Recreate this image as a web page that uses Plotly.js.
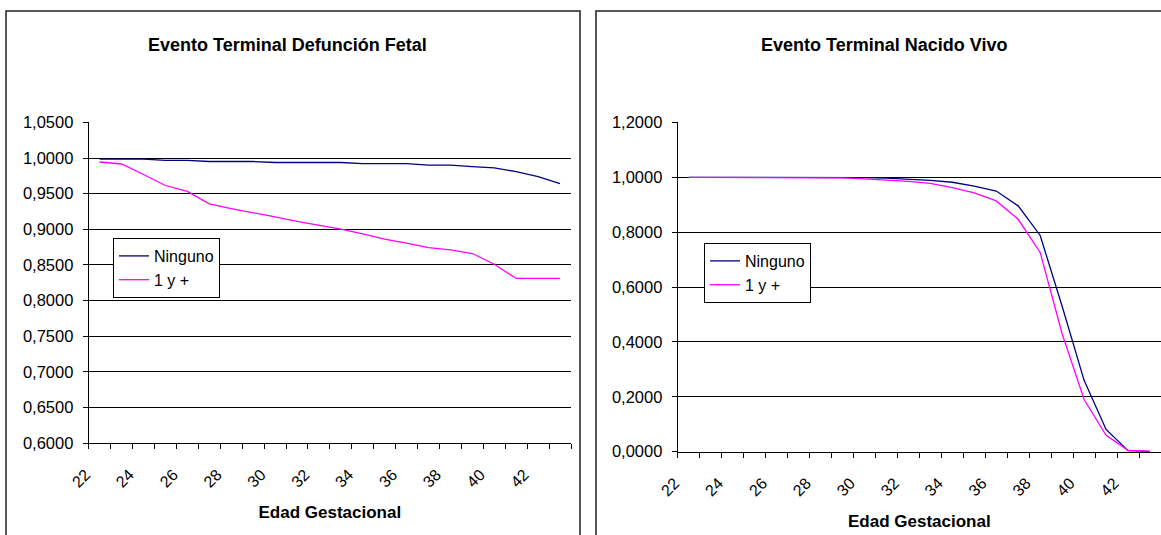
<!DOCTYPE html>
<html>
<head>
<meta charset="utf-8">
<script src="https://cdn.plot.ly/plotly-3.0.1.min.js"></script>
<style>html,body{margin:0;padding:0;background:#fff;}#chart{width:1161px;height:535px;}</style>
</head>
<body>
<div id="chart"></div>
<script>
// Edad gestacional (semanas)
const edad = [22,23,24,25,26,27,28,29,30,31,32,33,34,35,36,37,38,39,40,41,42,43];
const tickVals = [22,24,26,28,30,32,34,36,38,40,42];
const tickLabels = ['22','24','26','28','30','32','34','36','38','40','42'];
const serieNames = ['Ninguno','1 y +'];

// Evento Terminal Defunción Fetal
const fetalNinguno = [0.9985,0.9985,0.9985,0.9967,0.9967,0.9952,0.9952,0.9952,0.9938,0.9938,0.9938,0.9938,0.9922,0.9922,0.9922,0.9900,0.9900,0.9880,0.9862,0.9810,0.9740,0.9640];
const fetalUnoMas  = [0.9945,0.9917,0.9770,0.9615,0.9532,0.9358,0.9290,0.9234,0.9174,0.9110,0.9060,0.9004,0.8936,0.8862,0.8807,0.8743,0.8710,0.8660,0.8510,0.8310,0.8310,0.8310];

// Evento Terminal Nacido Vivo
const vivoNinguno = [1.0000,1.0000,1.0000,1.0000,1.0000,1.0000,1.0000,1.0000,0.9990,0.9970,0.9940,0.9890,0.9820,0.9680,0.9500,0.8960,0.7880,0.5300,0.2600,0.0810,0.0040,0.0000];
const vivoUnoMas  = [1.0000,1.0000,1.0000,1.0000,1.0000,1.0000,1.0000,0.9980,0.9940,0.9900,0.9850,0.9780,0.9620,0.9430,0.9140,0.8470,0.7260,0.4300,0.1900,0.0600,0.0050,0.0020];

const titles = ['Evento Terminal Defunción Fetal','Evento Terminal Nacido Vivo'];
const xTitle = 'Edad Gestacional';

const W = 1161, H = 535;
const px = v => v / W;
const py = v => 1 - v / H;
const FONT = '"Liberation Sans", Arial, sans-serif';
const colNinguno = '#000080', colUno = '#FF00FF';

const traces = [
  {x: edad, y: fetalNinguno, name: serieNames[0], type: 'scatter', mode: 'lines', line: {color: colNinguno, width: 1.3}, xaxis: 'x', yaxis: 'y', legend: 'legend'},
  {x: edad, y: fetalUnoMas, name: serieNames[1], type: 'scatter', mode: 'lines', line: {color: colUno, width: 1.3}, xaxis: 'x', yaxis: 'y', legend: 'legend'},
  {x: edad, y: vivoNinguno, name: serieNames[0], type: 'scatter', mode: 'lines', line: {color: colNinguno, width: 1.3}, xaxis: 'x2', yaxis: 'y2', legend: 'legend2'},
  {x: edad, y: vivoUnoMas, name: serieNames[1], type: 'scatter', mode: 'lines', line: {color: colUno, width: 1.3}, xaxis: 'x2', yaxis: 'y2', legend: 'legend2'}
];

function xAxis(domain, anchor) {
  return {
    domain: domain, anchor: anchor, range: [21.5, 43.5], type: 'linear',
    tickmode: 'array', tickvals: tickVals, ticktext: tickLabels, tickangle: -45,
    ticks: '', showgrid: false, zeroline: false,
    showline: true, linecolor: '#000', linewidth: 1,
    ticklabelshift: -14, ticklabelstandoff: 15,
    minor: {tickmode: 'linear', tick0: 21.5, dtick: 1, ticks: 'outside', ticklen: 5, tickcolor: '#000', tickwidth: 1, showgrid: false},
    tickfont: {family: FONT, size: 16, color: '#000'},
    title: {text: '<b>' + xTitle + '</b>', font: {family: FONT, size: 17, color: '#000'}, standoff: 16}
  };
}
function yAxis(domain, anchor, range, dtick) {
  return {
    domain: domain, anchor: anchor, range: range, tick0: range[0], dtick: dtick,
    tickformat: '.4f', ticks: 'outside', ticklen: 5, tickcolor: '#000',
    showgrid: true, gridcolor: '#000', gridwidth: 1, zeroline: false,
    showline: true, linecolor: '#000', linewidth: 1,
    ticklabelstandoff: 6,
    tickfont: {family: FONT, size: 16.5, color: '#000'}
  };
}

const layout = {
  width: W, height: H, autosize: false,
  margin: {l: 0, r: 0, t: 0, b: 0, pad: 0},
  paper_bgcolor: '#fff', plot_bgcolor: '#fff',
  separators: ',.',
  font: {family: FONT, color: '#000'},
  showlegend: true,
  xaxis: xAxis([px(88.7), px(571)], 'y'),
  yaxis: yAxis([py(443), py(122.4)], 'x', [0.6, 1.0501], 0.05),
  xaxis2: xAxis([px(677.7), 1], 'y2'),
  yaxis2: yAxis([py(451.7), py(122.4)], 'x2', [0, 1.2001], 0.2),
  legend: {x: px(113), y: py(238), xanchor: 'left', yanchor: 'top', bgcolor: '#fff', bordercolor: '#000', borderwidth: 1,
           font: {family: FONT, size: 16, color: '#000'}, itemwidth: 30, tracegroupgap: 0},
  legend2: {x: px(704), y: py(243), xanchor: 'left', yanchor: 'top', bgcolor: '#fff', bordercolor: '#000', borderwidth: 1,
           font: {family: FONT, size: 16, color: '#000'}, itemwidth: 30, tracegroupgap: 0},
  shapes: [
    {type: 'rect', xref: 'paper', yref: 'paper', x0: px(6), x1: px(580), y0: -0.2, y1: py(11), line: {color: '#222', width: 1.5}, layer: 'below'},
    {type: 'rect', xref: 'paper', yref: 'paper', x0: px(596), x1: 1.2, y0: -0.2, y1: py(11), line: {color: '#222', width: 1.5}, layer: 'below'}
  ],
  annotations: [
    {text: '<b>' + titles[0] + '</b>', xref: 'paper', yref: 'paper', x: px(287), y: py(45), xanchor: 'center', yanchor: 'middle', showarrow: false, font: {family: FONT, size: 18, color: '#000'}},
    {text: '<b>' + titles[1] + '</b>', xref: 'paper', yref: 'paper', x: px(884), y: py(45), xanchor: 'center', yanchor: 'middle', showarrow: false, font: {family: FONT, size: 18, color: '#000'}}
  ]
};

Plotly.newPlot('chart', traces, layout, {displayModeBar: false, staticPlot: true});
</script>
</body>
</html>
